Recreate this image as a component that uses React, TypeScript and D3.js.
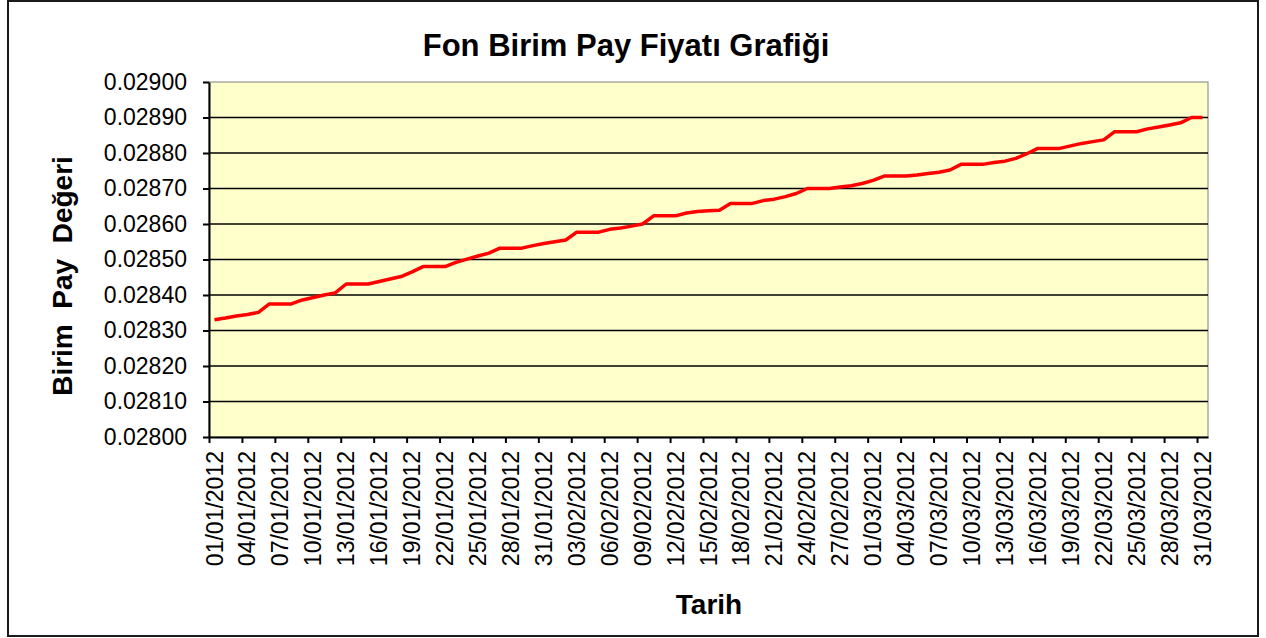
import * as d3 from "d3";
import { useRef, useEffect } from "react";

// daily categories 01/01/2012 .. 31/03/2012
const dates = d3.utcDay
  .range(new Date(Date.UTC(2012, 0, 1)), new Date(Date.UTC(2012, 3, 1)))
  .map(d3.utcFormat("%d/%m/%Y"));

// unit price per day (weekends flat)
const prices = [
  0.02833, 0.028335, 0.028341, 0.028345, 0.028351, 0.028375, 0.028375, 0.028375,
  0.028386, 0.028393, 0.0284, 0.028406, 0.028431, 0.028431, 0.028431,
  0.028438, 0.028445, 0.028452, 0.028465, 0.02848, 0.02848, 0.02848,
  0.028492, 0.028501, 0.02851, 0.028518, 0.028532, 0.028532, 0.028532,
  0.028539, 0.028545, 0.02855, 0.028555, 0.028577, 0.028577, 0.028577,
  0.028585, 0.028589, 0.028594, 0.0286, 0.028623, 0.028623, 0.028623,
  0.028631, 0.028635, 0.028637, 0.028639, 0.028658, 0.028658, 0.028658,
  0.028666, 0.02867, 0.028677, 0.028686, 0.0287, 0.0287, 0.0287,
  0.028704, 0.028708, 0.028714, 0.028723, 0.028735, 0.028735, 0.028735,
  0.028738, 0.028742, 0.028746, 0.028752, 0.028768, 0.028768, 0.028768,
  0.028773, 0.028777, 0.028785, 0.028798, 0.028813, 0.028813, 0.028813,
  0.02882, 0.028827, 0.028832, 0.028837, 0.02886, 0.02886, 0.02886,
  0.028868, 0.028873, 0.028879, 0.028885, 0.0289, 0.0289,
];

const yTicks = [
  0.028, 0.0281, 0.0282, 0.0283, 0.0284, 0.0285, 0.0286, 0.0287, 0.0288,
  0.0289, 0.029,
];

const FONT = "Arial, 'Liberation Sans', sans-serif";
const W = 1266;
const H = 638;

export default function App() {
  const ref = useRef<SVGSVGElement>(null);

  useEffect(() => {
    if (!ref.current) return;
    const root = d3.select(ref.current);
    root.selectAll("*").remove();

    const margin = { top: 82, right: 58, bottom: 201, left: 209 };
    const width = W - margin.left - margin.right;
    const height = H - margin.top - margin.bottom;

    // chart area border
    root
      .append("rect")
      .attr("x", 8)
      .attr("y", 1)
      .attr("width", 1250)
      .attr("height", 635)
      .attr("fill", "#fff")
      .attr("stroke", "#1a1a1a")
      .attr("stroke-width", 2);

    root
      .append("text")
      .attr("x", 626)
      .attr("y", 56)
      .attr("text-anchor", "middle")
      .attr("font-family", FONT)
      .attr("font-weight", "bold")
      .attr("font-size", 31)
      .text("Fon Birim Pay Fiyatı Grafiği");

    const svg = root
      .append("g")
      .attr("transform", `translate(${margin.left},${margin.top})`);

    const x = d3.scaleBand().domain(dates).range([0, width]).padding(0);
    const xIdx = d3.scaleLinear().domain([0, dates.length]).range([0, width]);
    const y = d3.scaleLinear().domain([0.028, 0.029]).range([height, 0]);

    svg
      .append("rect")
      .attr("width", width)
      .attr("height", height)
      .attr("fill", "#FFFFCC")
      .attr("stroke", "#808080")
      .attr("stroke-width", 1);

    // gridlines
    svg
      .selectAll(".grid")
      .data(yTicks.slice(1, -1))
      .enter()
      .append("line")
      .attr("x1", 0)
      .attr("x2", width)
      .attr("y1", (d) => y(d))
      .attr("y2", (d) => y(d))
      .attr("stroke", "#000")
      .attr("stroke-width", 1.5);

    const line = d3
      .line<number>()
      .x((_, i) => (x(dates[i]) || 0) + x.bandwidth() / 2)
      .y((d) => y(d));

    svg
      .append("path")
      .datum(prices)
      .attr("fill", "none")
      .attr("stroke", "#FF0000")
      .attr("stroke-width", 3.5)
      .attr("stroke-linejoin", "round")
      .attr("d", line);

    // y axis
    const gy = svg
      .append("g")
      .call(
        d3
          .axisLeft(y)
          .tickValues(yTicks)
          .tickFormat(d3.format(".5f"))
          .tickSize(6)
          .tickSizeOuter(0)
          .tickPadding(16)
      );
    gy.select(".domain").attr("stroke", "#000").attr("stroke-width", 2);
    gy.selectAll(".tick line").attr("stroke", "#000").attr("stroke-width", 2);
    gy.selectAll("text")
      .attr("font-family", FONT)
      .attr("font-size", 23)
      .attr("fill", "#000");

    // x axis tick marks at category boundaries
    const gxTicks = svg
      .append("g")
      .attr("transform", `translate(0,${height})`)
      .call(
        d3
          .axisBottom(xIdx)
          .tickValues(d3.range(0, dates.length, 3))
          .tickFormat(() => "")
          .tickSize(6)
          .tickSizeOuter(0)
      );
    gxTicks.select(".domain").attr("stroke", "#000").attr("stroke-width", 2);
    gxTicks.selectAll(".tick line").attr("stroke", "#000").attr("stroke-width", 2);

    // x axis labels at category centres
    const gx = svg
      .append("g")
      .attr("transform", `translate(0,${height})`)
      .call(
        d3
          .axisBottom(x)
          .tickValues(dates.filter((_, i) => i % 3 === 0))
          .tickSize(0)
      );
    gx.select(".domain").remove();
    gx.selectAll("text")
      .attr("font-family", FONT)
      .attr("font-size", 23)
      .attr("fill", "#000")
      .attr("transform", "rotate(-90)")
      .attr("text-anchor", "end")
      .attr("x", -14)
      .attr("y", 0)
      .attr("dy", "0.35em");

    // axis titles
    root
      .append("text")
      .attr("x", 709)
      .attr("y", 614)
      .attr("text-anchor", "middle")
      .attr("font-family", FONT)
      .attr("font-weight", "bold")
      .attr("font-size", 28)
      .text("Tarih");

    root
      .append("text")
      .attr("transform", "translate(72,276) rotate(-90)")
      .attr("text-anchor", "middle")
      .attr("font-family", FONT)
      .attr("font-weight", "bold")
      .attr("font-size", 28)
      .style("white-space", "pre")
      .text("Birim  Pay  Değeri");
  }, []);

  return (
    <svg
      ref={ref}
      width={W}
      height={H}
      style={{ position: "absolute", left: 0, top: 0, background: "#fff" }}
    />
  );
}
